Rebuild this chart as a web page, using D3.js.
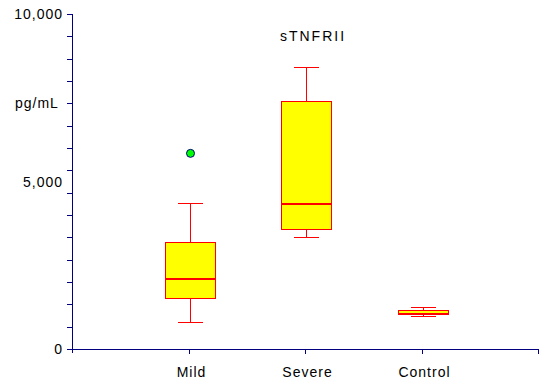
<!DOCTYPE html>
<html>
<head>
<meta charset="utf-8">
<script src="https://cdn.jsdelivr.net/npm/d3@7"></script>
<style>
  html, body { margin: 0; padding: 0; background: #fff; }
  svg { display: block; }
  text { font-family: "Liberation Sans", Arial, sans-serif; font-size: 14px; fill: #000; letter-spacing: 1px; }
</style>
</head>
<body>
<svg id="chart" width="550" height="389"></svg>
<script>
// ---- data ----
const title = "sTNFRII";
const unitLabel = "pg/mL";
const categories = ["Mild", "Severe", "Control"];
const whiskerLow = [800, 3335, 985];
const q1 = [1515, 3575, 1035];
const median = [2090, 4340, 1050];
const q3 = [3185, 7395, 1165];
const whiskerHigh = [4350, 8410, 1255];
const outliers = [{ cat: "Mild", value: 5840 }];
const yTickLabels = [{ v: 10000, t: "10,000" }, { v: 5000, t: "5,000" }, { v: 0, t: "0" }];
const yMinorStep = 10000 / 15;
const unitLabelValue = 11 * yMinorStep;

// ---- layout ----
const svg = d3.select("#chart");
const y = d3.scaleLinear().domain([0, 10000]).range([349, 14]);
const x = d3.scaleLinear().domain([0, 4]).range([73, 539]);
const catX = c => Math.round(x(categories.indexOf(c) + 1)) + 0.5;
const py = v => Math.round(y(v)) + 0.5;
const axisColor = "#000080";
const boxW = 50, capW = 25;

// y axis
svg.append("line").attr("x1", 72.5).attr("x2", 72.5).attr("y1", y(10000)).attr("y2", 353)
  .attr("stroke", axisColor).attr("stroke-width", 1);
const yTicks = d3.range(0, 16).map(i => i * yMinorStep);
svg.selectAll(".yt").data(yTicks).enter().append("line")
  .attr("x1", 67).attr("x2", 72.5)
  .attr("y1", d => py(d)).attr("y2", d => py(d))
  .attr("stroke", axisColor);
svg.selectAll(".yl").data(yTickLabels).enter().append("text")
  .attr("x", 63).attr("y", d => y(d.v) + 5).attr("text-anchor", "end").text(d => d.t);
svg.append("text").attr("x", 15).attr("y", y(unitLabelValue) + 5).text(unitLabel);

// x axis
svg.append("line").attr("x1", 72.5).attr("x2", x(4)).attr("y1", 349.5).attr("y2", 349.5)
  .attr("stroke", axisColor);
const xTickPos = [1, 2, 3, 4];
svg.selectAll(".xt").data(xTickPos).enter().append("line")
  .attr("x1", d => Math.round(x(d)) - 0.5).attr("x2", d => Math.round(x(d)) - 0.5)
  .attr("y1", 349.5).attr("y2", 354).attr("stroke", axisColor);
svg.selectAll(".xl").data(categories).enter().append("text")
  .attr("x", d => catX(d) + 1).attr("y", 377).attr("text-anchor", "middle").text(d => d);

// title
svg.append("text").attr("x", 313).attr("y", 41).attr("text-anchor", "middle")
  .style("letter-spacing", "2px").text(title);

// boxes
const g = svg.selectAll(".box").data(categories).enter().append("g");
g.append("line").attr("x1", d => catX(d)).attr("x2", d => catX(d))
  .attr("y1", (d, i) => py(whiskerHigh[i])).attr("y2", (d, i) => py(q3[i])).attr("stroke", "red");
g.append("line").attr("x1", d => catX(d)).attr("x2", d => catX(d))
  .attr("y1", (d, i) => py(q1[i])).attr("y2", (d, i) => py(whiskerLow[i])).attr("stroke", "red");
g.append("line").attr("x1", d => catX(d) - capW / 2).attr("x2", d => catX(d) + capW / 2)
  .attr("y1", (d, i) => py(whiskerHigh[i])).attr("y2", (d, i) => py(whiskerHigh[i])).attr("stroke", "red");
g.append("line").attr("x1", d => catX(d) - capW / 2).attr("x2", d => catX(d) + capW / 2)
  .attr("y1", (d, i) => py(whiskerLow[i])).attr("y2", (d, i) => py(whiskerLow[i])).attr("stroke", "red");
g.append("rect").attr("x", d => catX(d) - boxW / 2).attr("width", boxW)
  .attr("y", (d, i) => py(q3[i])).attr("height", (d, i) => py(q1[i]) - py(q3[i]))
  .attr("fill", "#ffff00").attr("stroke", "red").attr("stroke-width", 1);
g.append("line").attr("x1", d => catX(d) - boxW / 2).attr("x2", d => catX(d) + boxW / 2)
  .attr("y1", (d, i) => Math.round(y(median[i]))).attr("y2", (d, i) => Math.round(y(median[i])))
  .attr("stroke", "red").attr("stroke-width", 2);

// outliers
svg.selectAll(".out").data(outliers).enter().append("circle")
  .attr("cx", d => catX(d.cat)).attr("cy", d => y(d.value)).attr("r", 4)
  .attr("fill", "#00ff00").attr("stroke", axisColor).attr("stroke-width", 1);
</script>
</body>
</html>
